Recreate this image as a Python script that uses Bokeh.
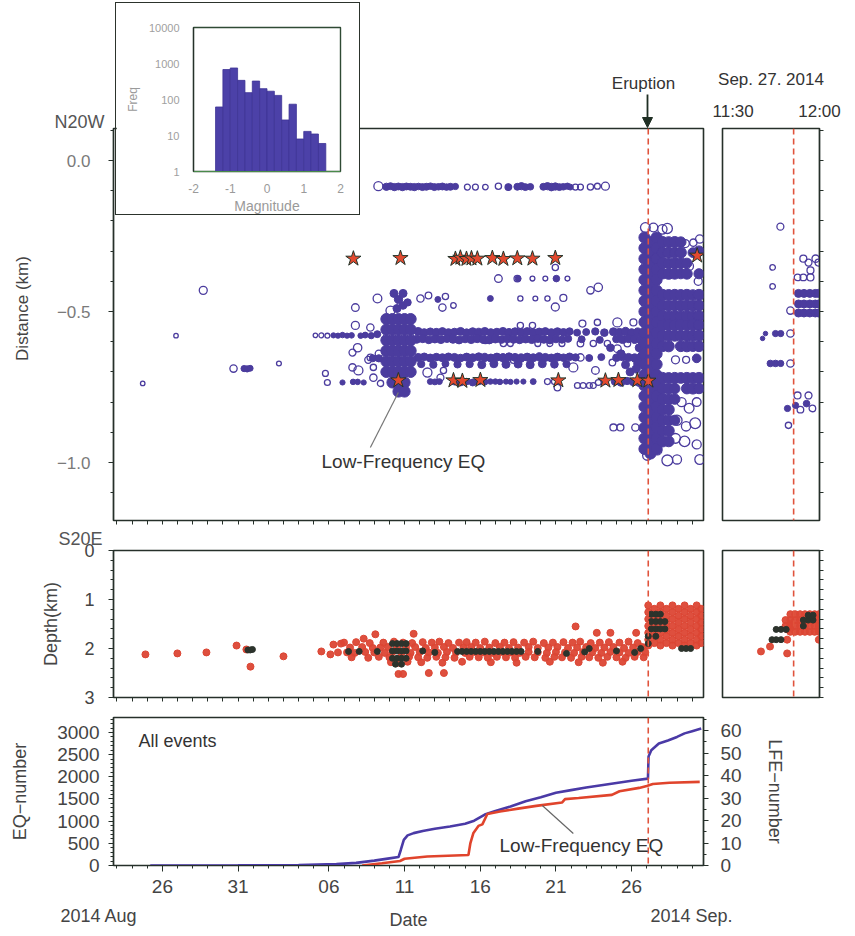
import math
from bokeh.plotting import figure
from bokeh.layouts import column, row
from bokeh.models import (ColumnDataSource, Range1d, LinearAxis, FixedTicker, Label,
                          Arrow, NormalHead, Span, GridBox)
from bokeh.embed import file_html
from bokeh.resources import INLINE

FONT = "Liberation Sans"
PURPLE = "#4b3c9e"
RED = "#dc4634"
DARK = "#2c332c"
FRAME = "#26302a"
ERUPT = "#e0533c"

# ---------------- axes values ----------------
# x = days since 2014-08-01 00:00 (Aug 26 -> 25, Sep 06 -> 36)
date_ticks = [25, 30, 36, 41, 46, 51, 56]
date_tick_labels = ["26", "31", "06", "11", "16", "21", "26"]
date_minor_ticks = [22, 23, 24, 25, 26, 27, 28, 29, 30, 31, 32, 33, 34, 35, 36, 37, 38, 39, 40,
                    41, 42, 43, 44, 45, 46, 47, 48, 49, 50, 51, 52, 53, 54, 55, 56, 57, 58, 59, 60]
eruption_day = 57.1
eruption_minute = 22          # 11:52 inside the 11:30-12:00 window
dist_ticks = [0.0, -0.5, -1.0]
dist_tick_labels = ["0.0", "\u22120.5", "\u22121.0"]
dist_minor_ticks = [0.1, 0.0, -0.1, -0.2, -0.3, -0.4, -0.5, -0.6, -0.7, -0.8, -0.9, -1.0, -1.1]
depth_ticks = [0, 1, 2, 3]
depth_minor_ticks = [0.2, 0.4, 0.6, 0.8, 1.2, 1.4, 1.6, 1.8, 2.2, 2.4, 2.6, 2.8]
depth_all_ticks = [0, 0.2, 0.4, 0.6, 0.8, 1, 1.2, 1.4, 1.6, 1.8, 2, 2.2, 2.4, 2.6, 2.8, 3]
eq_ticks = [0, 500, 1000, 1500, 2000, 2500, 3000]
eq_minor_ticks = [100, 200, 300, 400, 600, 700, 800, 900, 1100, 1200, 1300, 1400, 1600, 1700, 1800,
                  1900, 2100, 2200, 2300, 2400, 2600, 2700, 2800, 2900, 3100, 3200, 3300]
lfe_ticks = [0, 10, 20, 30, 40, 50, 60]
lfe_minor_ticks = [5, 15, 25, 35, 45, 55, 65]

# ---------------- magnitude histogram (inset) ----------------
mag_bin_left = [-1.4, -1.2, -1.0, -0.8, -0.6, -0.4, -0.2, 0.0, 0.2, 0.4, 0.6, 0.8, 1.0, 1.2, 1.4]
mag_bin_freq = [62, 680, 750, 340, 155, 325, 200, 170, 130, 27, 74, 8, 13, 11, 6]

# ---------------- hypocentre distance vs date (day, km, magnitude) ----------------
open_events = [
    (23.7, -0.738, -1.0), (25.9, -0.580, -1.0), (27.7, -0.430, 0.0), (29.7, -0.689, -0.2), (32.7, -0.672, -0.9),
    (39.27, -0.085, 0.3), (45.15, -0.088, -0.6), (45.68, -0.088, -0.6), (46.34, -0.088, -0.7), (47.20, -0.085, -0.5),
    (47.86, -0.088, -0.4), (52.29, -0.088, -0.6), (52.62, -0.088, -0.6), (53.28, -0.088, -0.5), (53.74, -0.085, -0.6),
    (54.27, -0.085, 0.0),
    (37.75, -0.487, -0.1), (39.21, -0.457, 0.2), (40.07, -0.497, 0.3), (42.05, -0.457, -0.2), (42.58, -0.447, -0.4),
    (43.50, -0.487, -0.2), (43.70, -0.450, -0.5), (44.23, -0.480, -0.7), (47.20, -0.391, -0.1), (48.45, -0.391, -0.4),
    (49.45, -0.391, -0.9), (50.30, -0.391, -0.9), (51.76, -0.391, -0.9), (48.65, -0.457, -0.8), (49.64, -0.457, -0.9),
    (50.44, -0.457, -0.8), (50.96, -0.485, 0.0), (51.49, -0.455, -0.3), (53.28, -0.430, -0.2), (53.80, -0.420, 0.1),
    (50.96, -0.354, -0.5),
    (35.11, -0.579, -1.0), (35.50, -0.579, -0.9), (35.90, -0.580, -0.9), (37.75, -0.546, 0.0), (38.74, -0.553, -0.2),
    (37.56, -0.636, -0.3), (37.56, -0.685, -0.2), (37.95, -0.695, 0.3), (38.94, -0.685, -0.5), (38.74, -0.652, -0.4),
    (35.77, -0.705, -0.6), (35.90, -0.735, -0.6), (38.94, -0.719, -0.2), (39.41, -0.738, -0.5), (42.51, -0.702, 0.3),
    (43.37, -0.719, -0.3), (43.57, -0.695, -0.5), (37.90, -0.620, 0.1), (38.60, -0.660, -0.3), (39.30, -0.640, -0.2),
    (48.65, -0.546, -0.5), (49.45, -0.546, -0.5), (52.75, -0.540, -0.3), (53.74, -0.536, -0.5), (55.06, -0.536, 0.3),
    (56.12, -0.536, -0.3),
    (46.34, -0.596, -0.5), (47.53, -0.606, -0.5), (47.99, -0.606, -0.6), (49.80, -0.606, -0.6), (50.60, -0.606, -0.6),
    (51.40, -0.606, -0.6), (52.62, -0.606, -0.4), (53.47, -0.606, -0.5), (54.40, -0.606, -0.5), (55.72, -0.606, -0.4),
    (48.19, -0.662, -0.6), (52.15, -0.685, 0.3), (52.62, -0.652, -0.2), (53.61, -0.695, -0.1), (54.73, -0.669, -0.4),
    (55.06, -0.623, -0.1),
    (50.44, -0.732, -0.6), (50.90, -0.732, -0.6), (51.10, -0.752, -0.4), (52.42, -0.745, -0.6), (52.80, -0.745, -0.6),
    (53.21, -0.745, -0.6), (53.47, -0.745, -0.6), (53.80, -0.735, -0.6), (54.20, -0.732, -0.6),
    (54.80, -0.884, -0.3), (55.26, -0.884, -0.3), (56.25, -0.884, -0.2),
    (56.91, -0.222, 0.5), (57.44, -0.222, 0.2), (58.03, -0.228, 0.4), (58.36, -0.225, 0.6), (59.55, -0.275, 0.0),
    (60.08, -0.272, -0.2), (60.50, -0.260, 0.1), (59.80, -0.350, 0.2), (60.40, -0.400, 0.0), (58.90, -0.660, 0.0),
    (59.60, -0.660, -0.3), (60.40, -0.580, -0.2), (59.30, -0.800, 0.3), (59.80, -0.820, 0.5), (60.30, -0.800, 0.2),
    (59.00, -0.860, 0.6), (59.60, -0.880, 0.4), (60.20, -0.870, 0.8), (58.90, -0.920, 0.5), (59.50, -0.930, 0.7),
    (60.30, -0.940, 0.3), (58.36, -0.993, 0.8), (59.00, -0.990, 0.3), (57.04, -0.977, 0.4), (57.70, -0.960, 0.3),
    (60.50, -0.990, 0.5),
]

swarm_events = [
    (30.4, -0.689, -0.5), (30.6, -0.690, -0.5), (30.8, -0.688, -0.6),
    # northern cluster
    (39.80, -0.087, -0.2), (40.07, -0.085, -0.3), (40.33, -0.088, -0.2), (40.59, -0.086, -0.3), (40.86, -0.088, -0.2),
    (41.12, -0.086, -0.3), (41.39, -0.087, -0.3), (41.65, -0.088, -0.2), (41.92, -0.086, -0.4), (42.18, -0.088, -0.3),
    (42.44, -0.087, -0.3), (42.71, -0.085, -0.4), (42.97, -0.088, -0.3), (43.24, -0.087, -0.4), (43.50, -0.086, -0.3),
    (43.77, -0.088, -0.4), (44.03, -0.087, -0.3), (44.36, -0.086, -0.5), (47.86, -0.088, -0.5), (48.45, -0.087, -0.3),
    (48.72, -0.085, -0.2), (48.98, -0.088, -0.3), (49.31, -0.087, -0.4), (50.17, -0.087, -0.3), (50.44, -0.085, -0.2),
    (50.70, -0.088, -0.1), (50.96, -0.086, -0.2), (51.23, -0.088, -0.3), (51.49, -0.087, -0.4), (51.76, -0.085, -0.5),
    (51.95, -0.088, -0.6),
    (40.3, -0.440, 0.0), (40.6, -0.460, 0.1), (40.9, -0.440, 0.0), (40.5, -0.490, 0.0), (40.9, -0.480, -0.1),
    (41.2, -0.470, -0.2), (46.67, -0.457, -0.6), (51.03, -0.391, -0.4), (48.5, -0.391, -0.6), (43.2, -0.460, -0.6),
    # band near -0.58 km
    (36.3, -0.579, -0.8), (36.6, -0.580, -0.8), (36.9, -0.578, -0.7), (37.2, -0.580, -0.8), (37.5, -0.579, -0.7),
    (38.1, -0.580, -0.7), (38.4, -0.578, -0.6), (38.8, -0.580, -0.5), (39.2, -0.575, -0.3),
    (41.9, -0.566, 0.0), (42.3, -0.570, 0.0), (42.7, -0.567, -0.1), (43.1, -0.569, 0.0), (43.5, -0.566, -0.1),
    (43.9, -0.570, 0.0), (44.3, -0.568, -0.1), (44.7, -0.566, 0.0), (45.1, -0.570, -0.1), (45.5, -0.567, 0.0),
    (45.9, -0.569, 0.1), (46.3, -0.566, 0.0), (46.7, -0.570, 0.0), (47.1, -0.568, -0.1), (47.5, -0.566, 0.0),
    (47.9, -0.570, 0.1), (48.3, -0.567, 0.0), (48.7, -0.569, 0.0), (49.1, -0.566, -0.1), (49.5, -0.570, 0.0),
    (49.9, -0.568, 0.0), (50.3, -0.566, -0.1), (50.7, -0.570, 0.0), (51.1, -0.567, 0.0), (51.5, -0.569, -0.1),
    (51.9, -0.566, -0.2), (52.4, -0.570, -0.3), (53.0, -0.568, -0.3), (53.6, -0.566, -0.2), (54.2, -0.570, -0.1),
    (54.8, -0.567, 0.0), (55.2, -0.569, 0.0), (55.6, -0.566, 0.1), (56.0, -0.570, 0.0), (56.4, -0.568, 0.1),
    (41.8, -0.592, 0.0), (42.2, -0.590, 0.0), (42.6, -0.594, -0.1), (43.0, -0.591, 0.0), (43.4, -0.593, 0.0),
    (43.8, -0.590, -0.1), (44.2, -0.592, 0.0), (44.6, -0.594, 0.0), (45.0, -0.591, -0.1), (45.4, -0.593, 0.0),
    (45.8, -0.590, 0.0), (46.2, -0.592, 0.1), (46.6, -0.594, 0.0), (47.0, -0.591, 0.0), (47.4, -0.593, -0.1),
    (47.8, -0.590, 0.0), (48.2, -0.592, 0.0), (48.6, -0.594, -0.1), (49.0, -0.591, 0.0), (49.4, -0.593, 0.0),
    (49.8, -0.590, -0.1), (50.2, -0.592, 0.0), (50.6, -0.594, 0.0), (51.0, -0.591, -0.1), (51.4, -0.593, -0.2),
    (51.8, -0.590, -0.2), (52.7, -0.592, -0.3), (53.9, -0.594, -0.3), (55.0, -0.591, -0.1), (55.4, -0.593, 0.0),
    (55.8, -0.590, 0.0), (56.2, -0.592, 0.1), (56.6, -0.594, 0.1),
    # band near -0.66 km
    (38.9, -0.655, -0.3), (39.3, -0.655, -0.2),
    (41.9, -0.652, 0.0), (42.3, -0.650, -0.1), (42.7, -0.654, 0.0), (43.1, -0.651, -0.1), (43.5, -0.653, 0.0),
    (43.9, -0.650, -0.1), (44.3, -0.652, 0.0), (44.7, -0.654, -0.1), (45.1, -0.651, 0.0), (45.5, -0.653, 0.0),
    (45.9, -0.650, 0.0), (46.3, -0.652, 0.1), (46.7, -0.654, 0.0), (47.1, -0.651, 0.0), (47.5, -0.653, 0.1),
    (47.9, -0.650, 0.0), (48.3, -0.652, 0.0), (48.7, -0.654, 0.1), (49.1, -0.651, 0.0), (49.5, -0.653, 0.0),
    (49.9, -0.650, 0.1), (50.3, -0.652, 0.0), (50.7, -0.654, 0.0), (51.1, -0.651, 0.0), (51.5, -0.653, -0.1),
    (51.9, -0.650, -0.1), (52.3, -0.652, -0.2), (53.2, -0.654, -0.3), (54.0, -0.651, -0.3), (55.0, -0.653, -0.1),
    (55.4, -0.650, 0.0), (55.8, -0.652, 0.0), (56.2, -0.654, 0.1), (56.6, -0.651, 0.1),
    (42.1, -0.674, -0.2), (42.9, -0.676, -0.2), (43.7, -0.673, -0.3), (44.5, -0.675, -0.2), (45.3, -0.674, -0.2),
    (46.1, -0.676, 0.0), (46.9, -0.673, 0.0), (47.7, -0.675, 0.0), (48.5, -0.674, 0.0), (49.3, -0.676, 0.0),
    (50.1, -0.673, 0.0), (50.9, -0.675, -0.1), (51.7, -0.674, -0.2), (55.6, -0.676, 0.0), (56.4, -0.673, 0.0),
    # Sep 10-11 burst
    (39.8, -0.525, 0.9), (39.8, -0.560, 0.9), (39.8, -0.595, 0.9), (39.8, -0.630, 0.9), (39.8, -0.665, 0.9), (39.8, -0.700, 0.9),
    (40.2, -0.525, 0.9), (40.2, -0.560, 0.9), (40.2, -0.595, 0.9), (40.2, -0.630, 0.9), (40.2, -0.665, 0.9), (40.2, -0.700, 0.9),
    (40.2, -0.735, 0.9),
    (40.6, -0.525, 0.9), (40.6, -0.560, 0.9), (40.6, -0.595, 0.9), (40.6, -0.630, 0.9), (40.6, -0.665, 0.9), (40.6, -0.700, 0.9),
    (40.6, -0.735, 0.9), (40.6, -0.765, 0.9),
    (41.0, -0.525, 0.9), (41.0, -0.560, 0.9), (41.0, -0.595, 0.9), (41.0, -0.630, 0.9), (41.0, -0.665, 0.9), (41.0, -0.700, 0.9),
    (41.0, -0.735, 0.9), (41.0, -0.765, 0.9),
    (41.4, -0.525, 0.9), (41.4, -0.560, 0.9), (41.4, -0.595, 0.9), (41.4, -0.630, 0.9), (41.4, -0.665, 0.9), (41.4, -0.700, 0.9),
    # band near -0.73 km
    (36.9, -0.735, -0.8), (37.6, -0.733, -0.7), (37.9, -0.733, -0.7), (38.3, -0.735, -0.8), (42.7, -0.732, -0.6),
    (43.0, -0.733, -0.6), (43.3, -0.732, -0.6), (44.3, -0.732, -0.3), (44.7, -0.735, -0.3), (45.1, -0.732, -0.4),
    (45.5, -0.735, -0.3), (45.9, -0.732, -0.4), (46.3, -0.733, -0.5), (46.67, -0.732, -0.7), (47.0, -0.732, -0.7),
    (47.3, -0.733, -0.7), (47.7, -0.732, -0.8), (48.0, -0.733, -0.8), (48.4, -0.732, -0.8), (48.85, -0.732, -0.8),
    (49.5, -0.732, -0.6), (54.9, -0.732, -0.2), (55.3, -0.735, -0.1), (55.7, -0.730, -0.2), (56.1, -0.733, -0.1),
    (56.5, -0.735, 0.0), (54.6, -0.620, -0.1), (55.3, -0.640, 0.0), (55.9, -0.700, 0.0), (56.3, -0.690, 0.1),
    (56.5, -0.620, 0.0),
    # after the eruption
    (56.85, -0.255, 0.9), (56.85, -0.290, 0.9), (56.85, -0.325, 0.9), (56.85, -0.360, 0.9), (56.85, -0.395, 0.9),
    (56.85, -0.430, 0.9), (56.85, -0.465, 0.9), (56.85, -0.500, 0.9), (56.85, -0.535, 0.9), (56.85, -0.570, 0.9),
    (56.85, -0.605, 0.9), (56.85, -0.640, 0.9), (56.85, -0.675, 0.9), (56.85, -0.710, 0.9), (56.85, -0.745, 0.9),
    (56.85, -0.780, 0.9), (56.85, -0.815, 0.9), (56.85, -0.850, 0.9), (56.85, -0.885, 0.9), (56.85, -0.920, 0.9),
    (56.85, -0.955, 0.9),
    (57.25, -0.270, 0.9), (57.25, -0.305, 0.9), (57.25, -0.340, 0.9), (57.25, -0.375, 0.9), (57.25, -0.410, 0.9),
    (57.25, -0.445, 0.9), (57.25, -0.480, 0.9), (57.25, -0.515, 0.9), (57.25, -0.550, 0.9), (57.25, -0.585, 0.9),
    (57.25, -0.620, 0.9), (57.25, -0.655, 0.9), (57.25, -0.690, 0.9), (57.25, -0.725, 0.9), (57.25, -0.760, 0.9),
    (57.25, -0.795, 0.9), (57.25, -0.830, 0.9), (57.25, -0.865, 0.9), (57.25, -0.900, 0.9), (57.25, -0.935, 0.9),
    (57.25, -0.970, 0.9),
    (57.65, -0.255, 0.9), (57.65, -0.290, 0.9), (57.65, -0.325, 0.9), (57.65, -0.360, 0.9), (57.65, -0.395, 0.9),
    (57.65, -0.430, 0.9), (57.65, -0.465, 0.9), (57.65, -0.500, 0.9), (57.65, -0.535, 0.9), (57.65, -0.570, 0.9),
    (57.65, -0.605, 0.9), (57.65, -0.640, 0.9), (57.65, -0.675, 0.9), (57.65, -0.710, 0.9), (57.65, -0.745, 0.9),
    (57.65, -0.780, 0.9), (57.65, -0.815, 0.9), (57.65, -0.850, 0.9), (57.65, -0.885, 0.9), (57.65, -0.920, 0.9),
    (57.65, -0.955, 0.9),
    (58.05, -0.270, 0.9), (58.05, -0.305, 0.8), (58.05, -0.340, 0.9), (58.05, -0.375, 0.7),
    (58.45, -0.270, 0.8), (58.45, -0.305, 0.9), (58.45, -0.340, 0.7), (58.45, -0.375, 0.9),
    (58.85, -0.270, 0.9), (58.85, -0.305, 0.7), (58.85, -0.340, 0.9), (58.85, -0.375, 0.8),
    (59.25, -0.270, 0.7), (59.25, -0.305, 0.9), (59.25, -0.340, 0.8), (59.25, -0.375, 0.6),
    (59.65, -0.340, 0.6), (59.65, -0.375, 0.8), (60.05, -0.305, 0.5), (60.45, -0.300, 0.7), (60.45, -0.375, 0.6),
    (58.05, -0.445, 0.9), (58.45, -0.445, 0.8), (58.85, -0.445, 0.9), (59.25, -0.445, 0.8), (59.65, -0.445, 0.9),
    (60.05, -0.445, 0.7), (60.45, -0.445, 0.9),
    (58.05, -0.480, 0.8), (58.45, -0.480, 0.9), (58.85, -0.480, 0.7), (59.25, -0.480, 0.9), (59.65, -0.480, 0.8),
    (60.05, -0.480, 0.9), (60.45, -0.480, 0.8),
    (58.05, -0.515, 0.9), (58.45, -0.515, 0.7), (58.85, -0.515, 0.9), (59.25, -0.515, 0.8), (59.65, -0.515, 0.9),
    (60.05, -0.515, 0.8), (60.45, -0.515, 0.9),
    (58.05, -0.545, 0.8), (58.45, -0.545, 0.9), (58.85, -0.545, 0.8), (59.25, -0.545, 0.9), (59.65, -0.545, 0.7),
    (60.05, -0.545, 0.9), (60.45, -0.545, 0.8),
    (58.05, -0.580, 0.9), (58.45, -0.580, 0.8), (58.85, -0.580, 0.9), (59.25, -0.580, 0.7), (59.65, -0.580, 0.9),
    (60.05, -0.580, 0.8), (60.45, -0.580, 0.9),
    (58.05, -0.615, 0.8), (58.45, -0.615, 0.9), (59.25, -0.615, 0.8), (59.65, -0.615, 0.9),
    (60.05, -0.615, 0.7), (60.45, -0.615, 0.8),
    (58.05, -0.720, 0.9), (58.45, -0.720, 0.8), (58.85, -0.720, 0.9), (59.25, -0.720, 0.8), (59.65, -0.720, 0.9),
    (60.05, -0.720, 0.8), (60.45, -0.720, 0.9),
    (58.05, -0.755, 0.8), (58.45, -0.755, 0.9), (58.85, -0.755, 0.7), (59.65, -0.755, 0.8),
    (60.05, -0.755, 0.9), (60.45, -0.755, 0.7),
    (58.05, -0.790, 0.9), (58.45, -0.790, 0.8), (58.05, -0.825, 0.8), (58.45, -0.825, 0.9),
    (58.05, -0.860, 0.9), (58.45, -0.860, 0.7), (58.05, -0.895, 0.8), (58.45, -0.895, 0.9),
    (58.05, -0.930, 0.9), (58.45, -0.930, 0.8), (58.85, -0.790, 0.7), (58.85, -0.860, 0.6),
    (60.30, -0.655, 0.2),
]

# low-frequency events (stars): day, distance
lfe_events = [
    (37.62, -0.325), (40.73, -0.323), (44.36, -0.326), (44.69, -0.322), (45.09, -0.326), (45.42, -0.324),
    (45.81, -0.325), (46.80, -0.323), (47.53, -0.326), (48.45, -0.324), (49.45, -0.325), (50.96, -0.323),
    (60.33, -0.315),
    (40.59, -0.728), (44.23, -0.728), (44.82, -0.730), (46.01, -0.727), (51.16, -0.728), (54.27, -0.729),
    (55.13, -0.727), (56.38, -0.728), (57.11, -0.729),
]

# ---------------- Sep 27 11:30-12:00 close-up: minute, km, magnitude ----------------
zoom_open_events = [
    (17.9, -0.219, -0.3), (15.5, -0.354, -0.7), (15.5, -0.417, -0.7), (25.0, -0.325, -0.3), (26.6, -0.338, -0.3),
    (28.8, -0.325, -0.2), (29.7, -0.338, -0.3), (27.2, -0.364, -0.3), (23.2, -0.387, -0.4), (25.0, -0.387, -0.4),
    (27.2, -0.387, -0.3), (21.0, -0.497, -0.2), (21.0, -0.573, -0.2), (21.0, -0.672, -0.2), (23.2, -0.778, -0.3),
    (26.6, -0.778, -0.3), (24.1, -0.825, -0.4), (27.8, -0.821, -0.4), (20.4, -0.877, -0.5),
]
zoom_swarm_events = [
    (23.5, -0.440, 0.0), (25.2, -0.440, 0.0), (27.0, -0.440, 0.0), (28.7, -0.440, 0.0), (29.7, -0.440, 0.0),
    (23.5, -0.475, 0.0), (25.2, -0.475, 0.0), (27.0, -0.475, 0.0), (28.7, -0.475, 0.0), (29.7, -0.475, 0.0),
    (23.5, -0.505, 0.0), (25.2, -0.505, 0.0), (27.0, -0.505, 0.0), (28.7, -0.505, 0.0), (29.7, -0.505, 0.0),
    (12.4, -0.589, -1.0), (13.3, -0.573, -1.0), (16.4, -0.573, -0.5), (18.0, -0.573, -0.5), (14.8, -0.672, -0.4),
    (16.4, -0.672, -0.4), (18.0, -0.672, -0.5), (20.1, -0.821, -0.5), (22.6, -0.811, -0.5), (26.0, -0.805, -0.4),
]

# ---------------- depth vs date (day, km) ----------------
depth_red = [
    (23.88, 2.12), (25.99, 2.10), (27.91, 2.08), (29.90, 1.94), (30.55, 2.02), (30.82, 2.37), (33.00, 2.16),
    (35.50, 2.06), (36.10, 2.12), (36.30, 1.92), (36.60, 2.08), (36.80, 1.90),
    (37.0, 1.88), (37.8, 1.87), (38.7, 1.89), (39.6, 1.88), (40.3, 1.86), (40.9, 1.88), (41.5, 1.89), (42.2, 1.87),
    (42.8, 1.88), (43.3, 1.86), (43.9, 1.89), (44.6, 1.88), (45.1, 1.87), (45.7, 1.88), (46.3, 1.86), (47.0, 1.89),
    (47.6, 1.88), (48.2, 1.87), (48.9, 1.88), (49.5, 1.86), (50.2, 1.89), (50.8, 1.88), (51.5, 1.87), (52.1, 1.88),
    (52.6, 1.86), (53.3, 1.89), (53.9, 1.88), (54.5, 1.87), (55.2, 1.88), (55.8, 1.86), (56.4, 1.89),
    (37.4, 1.98), (38.2, 1.97), (38.9, 1.99), (39.4, 1.98), (39.9, 1.97), (40.5, 1.99), (41.1, 1.98), (41.7, 1.97),
    (42.4, 1.99), (43.0, 1.98), (43.6, 1.97), (44.2, 1.99), (44.9, 1.98), (45.4, 1.97), (46.0, 1.99), (46.6, 1.98),
    (47.3, 1.97), (47.9, 1.99), (48.5, 1.98), (49.2, 1.97), (49.8, 1.99), (50.5, 1.98), (51.1, 1.97), (51.8, 1.99),
    (52.4, 1.98), (53.0, 1.97), (53.6, 1.99), (54.2, 1.98), (54.8, 1.97), (55.5, 1.99), (56.1, 1.98), (56.7, 1.97),
    (37.2, 2.08), (37.7, 2.09), (38.4, 2.07), (39.0, 2.08), (39.7, 2.09), (40.2, 2.07), (40.8, 2.08), (41.4, 2.09),
    (42.0, 2.07), (42.6, 2.08), (43.2, 2.09), (43.8, 2.07), (44.4, 2.08), (45.0, 2.09), (45.6, 2.07), (46.2, 2.08),
    (46.8, 2.09), (47.4, 2.07), (48.0, 2.08), (48.6, 2.09), (49.2, 2.07), (49.8, 2.08), (50.4, 2.09), (51.0, 2.07),
    (51.6, 2.08), (52.2, 2.09), (52.8, 2.07), (53.4, 2.08), (54.0, 2.09), (54.6, 2.07), (55.2, 2.08), (55.8, 2.09),
    (56.4, 2.07), (56.9, 2.08),
    (37.5, 2.18), (38.6, 2.19), (39.3, 2.17), (40.0, 2.18), (40.7, 2.19), (41.3, 2.17), (41.9, 2.18), (42.5, 2.19),
    (43.1, 2.17), (43.7, 2.18), (44.3, 2.19), (45.3, 2.17), (45.9, 2.18), (46.5, 2.19), (47.1, 2.17), (47.7, 2.18),
    (48.3, 2.19), (49.0, 2.17), (49.6, 2.18), (50.3, 2.19), (50.9, 2.17), (51.4, 2.18), (52.0, 2.19), (52.7, 2.17),
    (53.2, 2.18), (53.8, 2.19), (54.4, 2.17), (55.0, 2.18), (55.6, 2.19), (56.2, 2.17), (56.8, 2.18),
    (40.1, 2.28), (40.6, 2.29), (41.2, 2.27), (42.1, 2.28), (43.5, 2.29), (44.8, 2.27), (46.7, 2.28), (48.4, 2.29),
    (50.6, 2.27), (52.5, 2.28), (54.1, 2.29), (55.4, 2.27),
    (39.07, 1.71), (41.6, 1.70), (52.3, 1.55), (53.7, 1.68), (54.6, 1.68), (56.3, 1.68), (40.6, 2.52), (40.9, 2.52),
    (42.6, 2.50), (43.6, 2.50), (38.3, 1.80),
    (57.1, 1.12), (57.1, 1.26), (57.1, 1.40), (57.1, 1.54), (57.1, 1.68), (57.1, 1.82), (57.1, 1.94),
    (57.5, 1.19), (57.5, 1.33), (57.5, 1.47), (57.5, 1.61), (57.5, 1.75), (57.5, 1.89),
    (57.9, 1.12), (57.9, 1.26), (57.9, 1.40), (57.9, 1.54), (57.9, 1.68), (57.9, 1.82), (57.9, 1.94),
    (58.3, 1.19), (58.3, 1.33), (58.3, 1.47), (58.3, 1.61), (58.3, 1.75), (58.3, 1.89),
    (58.7, 1.12), (58.7, 1.26), (58.7, 1.40), (58.7, 1.54), (58.7, 1.68), (58.7, 1.82), (58.7, 1.94),
    (59.1, 1.19), (59.1, 1.33), (59.1, 1.47), (59.1, 1.61), (59.1, 1.75), (59.1, 1.89),
    (59.5, 1.12), (59.5, 1.26), (59.5, 1.40), (59.5, 1.54), (59.5, 1.68), (59.5, 1.82), (59.5, 1.94),
    (59.9, 1.19), (59.9, 1.33), (59.9, 1.47), (59.9, 1.61), (59.9, 1.75), (59.9, 1.89),
    (60.3, 1.12), (60.3, 1.26), (60.3, 1.40), (60.3, 1.54), (60.3, 1.68), (60.3, 1.82), (60.3, 1.94),
    (60.6, 1.19), (60.6, 1.33), (60.6, 1.47), (60.6, 1.61), (60.6, 1.75), (60.6, 1.89),
]
depth_dark = [
    (30.65, 2.03), (30.80, 2.03), (30.95, 2.02),
    (44.5, 2.06), (44.8, 2.06), (45.1, 2.06), (45.4, 2.06), (45.7, 2.06), (46.0, 2.06), (46.3, 2.06), (46.6, 2.06),
    (46.9, 2.06), (47.2, 2.06), (47.5, 2.06), (47.8, 2.06), (48.1, 2.06), (48.4, 2.06), (48.7, 2.06),
    (40.2, 1.90), (40.5, 1.90), (40.8, 1.90), (41.1, 1.90), (40.2, 2.05), (40.5, 2.05), (40.8, 2.05), (41.1, 2.05),
    (40.2, 2.20), (40.5, 2.20), (40.8, 2.20), (41.1, 2.20), (40.4, 2.32), (40.8, 2.32),
    (37.3, 2.06), (38.0, 2.06), (39.2, 2.06), (42.2, 2.05), (43.0, 2.08), (49.8, 2.06), (51.7, 2.10), (53.2, 2.00),
    (55.0, 2.05), (56.2, 2.08), (56.6, 2.00), (52.9, 2.07),
    (57.3, 1.30), (57.6, 1.30), (57.9, 1.30), (57.3, 1.45), (57.6, 1.45), (57.9, 1.45), (58.2, 1.45), (57.3, 1.60),
    (57.6, 1.60), (57.9, 1.60), (58.2, 1.60), (57.6, 1.75), (57.1, 1.90), (57.1, 1.75), (59.3, 2.00), (59.6, 2.00),
    (59.9, 2.00),
]
zoom_depth_red = [
    (11.9, 2.06), (14.7, 1.96), (20.0, 1.61), (20.0, 1.82), (20.0, 2.10), (21.0, 1.50), (29.8, 1.82),
    (19.5, 1.42), (19.5, 1.54), (21.0, 1.30), (21.0, 1.42), (21.0, 1.54), (21.0, 1.66),
    (22.5, 1.30), (22.5, 1.42), (22.5, 1.54), (22.5, 1.66), (24.0, 1.30), (24.0, 1.42), (24.0, 1.54), (24.0, 1.66),
    (25.5, 1.30), (25.5, 1.42), (25.5, 1.54), (25.5, 1.66), (27.0, 1.30), (27.0, 1.42), (27.0, 1.54), (27.0, 1.66),
    (28.5, 1.30), (28.5, 1.42), (28.5, 1.54), (28.5, 1.66), (29.8, 1.30), (29.8, 1.42), (29.8, 1.54), (29.8, 1.66),
]
zoom_depth_dark = [
    (15.3, 1.82), (16.6, 1.82), (18.1, 1.82), (16.6, 1.61), (18.1, 1.61), (19.7, 1.61),
    (25.0, 1.42), (26.5, 1.42), (28.0, 1.42), (26.5, 1.32), (28.0, 1.32), (25.0, 1.54),
]

# ---------------- cumulative numbers ----------------
eq_day = [24.2, 30.0, 34.0, 36.5, 37.8, 39.0, 40.0, 40.6, 40.75, 40.95, 41.2, 41.6, 42.2, 43.0, 44.0, 45.0,
          45.6, 46.3, 47.0, 48.0, 49.0, 50.0, 51.0, 52.0, 53.0, 54.0, 55.0, 56.0, 57.08, 57.12, 57.3, 57.8,
          58.4, 59.0, 59.5, 60.0, 60.6]
eq_count = [0, 5, 12, 30, 60, 110, 160, 190, 350, 580, 680, 730, 780, 830, 880, 940, 1010, 1150, 1230, 1330,
            1450, 1540, 1640, 1700, 1760, 1810, 1860, 1910, 1960, 2460, 2600, 2750, 2820, 2900, 2980, 3030, 3090]
lfe_day = [38.2, 39.5, 40.7, 41.0, 42.5, 45.22, 45.35, 45.55, 45.88, 46.14, 46.47, 47.3, 48.5, 49.7, 51.4,
           51.6, 52.5, 54.7, 55.2, 56.5, 57.0, 57.4, 58.5, 60.5]
lfe_count = [0, 1, 2, 3, 4, 4.7, 10, 14.5, 17.6, 18.3, 22.9, 24, 25.3, 26.5, 28, 29.5, 30, 31.4, 33, 34.5,
             35.3, 36.2, 36.8, 37.2]


# ---------------- helpers ----------------
def mag_size(m):
    return 8.0 + 3.5 * m


def events_source(events):
    return ColumnDataSource(dict(x=[e[0] for e in events], y=[e[1] for e in events],
                                 size=[mag_size(e[2]) for e in events]))


def pair_source(pairs):
    return ColumnDataSource(dict(x=[e[0] for e in pairs], y=[e[1] for e in pairs]))


def make_fig(w, h, l, r, t, b, xr, yr, **kw):
    p = figure(width=w, height=h, x_range=xr, y_range=yr, output_backend="svg",
               toolbar_location=None, min_border_left=l, min_border_right=r,
               min_border_top=t, min_border_bottom=b, **kw)
    p.xgrid.visible = False
    p.ygrid.visible = False
    p.outline_line_color = FRAME
    p.outline_line_width = 1.6
    p.background_fill_color = "white"
    p.border_fill_color = "white"
    return p


def style_axis(ax, ticks, minor, size="16px", color="#666666", standoff=0, tick_out=5,
               minor_out=3, overrides=None):
    ax.ticker = FixedTicker(ticks=ticks, minor_ticks=minor)
    ax.major_label_text_font = FONT
    ax.major_label_text_font_size = size
    ax.major_label_text_color = color
    ax.major_label_standoff = standoff
    ax.major_tick_out = tick_out
    ax.major_tick_in = 0
    ax.minor_tick_out = minor_out
    ax.minor_tick_in = 0
    ax.axis_line_color = FRAME
    ax.axis_line_width = 1.2
    ax.major_tick_line_color = FRAME
    ax.minor_tick_line_color = FRAME
    if overrides:
        ax.major_label_overrides = overrides


def tick_only_axis(ax, ticks, tick_out=4):
    # unlabelled axis: every tick is drawn as a minor tick, so no label is produced
    ax.ticker = FixedTicker(ticks=[], minor_ticks=ticks)
    ax.minor_tick_out = tick_out
    ax.minor_tick_in = 0
    ax.major_tick_out = 0
    ax.major_label_standoff = 0
    ax.axis_line_color = FRAME
    ax.axis_line_width = 1.2
    ax.minor_tick_line_color = FRAME


def set_axis_label(ax, text, size, color, standoff):
    ax.axis_label = text
    ax.axis_label_text_font = FONT
    ax.axis_label_text_font_size = size
    ax.axis_label_text_font_style = "normal"
    ax.axis_label_text_color = color
    ax.axis_label_standoff = standoff


def add_label(p, x, y, text, size, color="#333333", align="center", baseline="middle", angle=0.0):
    p.add_layout(Label(x=x, y=y, text=text, text_font=FONT, text_font_size=size,
                       text_color=color, text_align=align, text_baseline=baseline, angle=angle))


def eruption_line(p, loc):
    p.add_layout(Span(location=loc, dimension="height", line_color=ERUPT,
                      line_dash="6 4", line_width=1.6))


X_RANGE = (21.77, 60.75)
date_overrides = {t: s for t, s in zip(date_ticks, date_tick_labels)}
dist_overrides = {t: s for t, s in zip(dist_ticks, dist_tick_labels)}

# ---------------- top panel: distance ----------------
pT = make_fig(712, 528, 113, 9, 128, 8, Range1d(*X_RANGE), Range1d(-1.192, 0.106))
tick_only_axis(pT.below[0], date_minor_ticks)
style_axis(pT.left[0], dist_ticks, dist_minor_ticks, size="17px", color="#7a7a7a",
           standoff=18, overrides=dist_overrides)
pT.scatter("x", "y", size="size", source=events_source(open_events), marker="circle",
           fill_color=None, line_color=PURPLE, line_width=1.3)
pT.scatter("x", "y", size="size", source=events_source(swarm_events), marker="circle",
           fill_color=PURPLE, line_color=PURPLE, line_width=1.0)
pT.scatter([e[0] for e in lfe_events], [e[1] for e in lfe_events], marker="star", size=16,
           fill_color="#e2492f", line_color="#24352a", line_width=1.0)
eruption_line(pT, eruption_day)
pT.add_layout(Arrow(end=None, x_start=40.59, y_start=-0.768, x_end=38.74, y_end=-0.95,
                    line_color="#777777", line_width=1.2))
add_label(pT, 40.92, -0.997, "Low-Frequency EQ", "19px", color="#333333")

# ---------------- top right: Sep 27 close-up ----------------
pTR = make_fig(143, 528, 10, 36, 128, 8, Range1d(0, 30), Range1d(-1.192, 0.106),
               x_axis_location="above", y_axis_location="right")
ax = pTR.above[0]
style_axis(ax, [0, 30], [], size="17px", color="#333333", standoff=8, tick_out=0,
           overrides={0: "11:30", 30: "12:00"})
ax.major_tick_line_color = None
set_axis_label(ax, "Sep. 27. 2014", "17px", "#333333", 10)
tick_only_axis(pTR.right[0], dist_minor_ticks)
pTR.scatter("x", "y", size="size", source=events_source(zoom_open_events), marker="circle",
            fill_color=None, line_color=PURPLE, line_width=1.3)
pTR.scatter("x", "y", size="size", source=events_source(zoom_swarm_events), marker="circle",
            fill_color=PURPLE, line_color=PURPLE, line_width=1.0)
eruption_line(pTR, eruption_minute)

# ---------------- middle: depth ----------------
pM = make_fig(712, 179, 113, 9, 22, 10, Range1d(*X_RANGE), Range1d(3, 0))
tick_only_axis(pM.below[0], date_minor_ticks)
style_axis(pM.left[0], depth_ticks, depth_minor_ticks, size="18px", color="#444444", standoff=14)
set_axis_label(pM.left[0], "Depth(km)", "18px", "#444444", 20)
pM.scatter("x", "y", source=pair_source(depth_red), marker="circle", size=7,
           fill_color=RED, line_color=RED, fill_alpha=0.95)
pM.scatter("x", "y", source=pair_source(depth_dark), marker="circle", size=6,
           fill_color=DARK, line_color=DARK)
eruption_line(pM, eruption_day)

pMR = make_fig(143, 179, 10, 36, 22, 10, Range1d(0, 30), Range1d(3, 0),
               x_axis_location=None, y_axis_location="right")
tick_only_axis(pMR.right[0], depth_all_ticks)
pMR.scatter("x", "y", source=pair_source(zoom_depth_red), marker="circle", size=7,
            fill_color=RED, line_color=RED, fill_alpha=0.95)
pMR.scatter("x", "y", source=pair_source(zoom_depth_dark), marker="circle", size=6,
            fill_color=DARK, line_color=DARK)
eruption_line(pMR, eruption_minute)

# ---------------- bottom: cumulative numbers ----------------
pB = make_fig(855, 229, 113, 152, 10, 71, Range1d(*X_RANGE), Range1d(0, 3338))
style_axis(pB.below[0], date_ticks, date_minor_ticks, size="19px", color="#444444",
           standoff=8, tick_out=6, overrides=date_overrides)
set_axis_label(pB.below[0], "Date", "18px", "#444444", 14)
style_axis(pB.left[0], eq_ticks, eq_minor_ticks, size="19px", color="#444444", standoff=9)
set_axis_label(pB.left[0], "EQ\u2212number", "18px", "#444444", 24)
pB.extra_y_ranges = {"lfe": Range1d(0, 65.8)}
lfe_axis = LinearAxis(y_range_name="lfe")
style_axis(lfe_axis, lfe_ticks, lfe_minor_ticks, size="19px", color="#444444", standoff=12)
set_axis_label(lfe_axis, "LFE\u2212number", "18px", "#444444", 20)
pB.add_layout(lfe_axis, "right")
pB.line(eq_day, eq_count, line_color="#4a3aa6", line_width=2.6)
pB.line(lfe_day, lfe_count, y_range_name="lfe", line_color="#e0442c", line_width=2.6)
eruption_line(pB, eruption_day)
add_label(pB, 23.42, 2797, "All events", "18px", color="#333333", align="left")
pB.add_layout(Arrow(end=None, x_start=52.15, y_start=722, x_end=50.1, y_end=1353,
                    line_color="#666666", line_width=1.2))
add_label(pB, 52.68, 451, "Low-Frequency EQ", "19px", color="#333333")

# ---------------- inset histogram ----------------
pI = figure(width=245, height=213, x_range=Range1d(-2, 2), y_range=Range1d(1, 10000),
            y_axis_type="log", output_backend="svg", toolbar_location=None,
            min_border_left=77, min_border_right=21, min_border_top=24, min_border_bottom=44)
pI.xgrid.visible = False
pI.ygrid.visible = False
pI.outline_line_color = "#2f4a34"
pI.outline_line_width = 1.4
pI.border_fill_color = "white"
pI.background_fill_color = "white"
pI.quad(left=mag_bin_left, right=[b + 0.2 for b in mag_bin_left], bottom=1, top=mag_bin_freq,
        fill_color="#4c41a8", line_color="#3e3496", line_width=0.8)
style_axis(pI.below[0], [-2, -1, 0, 1, 2], [], size="12px", color="#9a9a9a", standoff=12, tick_out=0,
           minor_out=0, overrides={-2: "-2", -1: "-1", 0: "0", 1: "1", 2: "2"})
pI.below[0].axis_line_color = "#4a8a4a"
set_axis_label(pI.below[0], "Magnitude", "14px", "#9a9a9a", 2)
style_axis(pI.left[0], [1, 10, 100, 1000, 10000], [], size="11px", color="#a0a0a0", standoff=14,
           tick_out=0, minor_out=0,
           overrides={1: "1", 10: "10", 100: "100", 1000: "1000", 10000: "10000"})
set_axis_label(pI.left[0], "Freq", "12px", "#9a9a9a", 6)
pI.styles = {"border": "1.5px solid #2c332c", "box-sizing": "border-box"}

# ---------------- transparent overlay for texts outside the plot frames ----------------
# page pixel coordinates: x from the left, y from the bottom of the 855x936 page
ov = figure(width=855, height=936, x_range=Range1d(0, 855), y_range=Range1d(0, 936),
            output_backend="svg", toolbar_location=None, x_axis_location=None,
            y_axis_location=None, min_border=0)
ov.xgrid.visible = False
ov.ygrid.visible = False
ov.outline_line_color = None
ov.background_fill_color = None
ov.border_fill_color = None
add_label(ov, 79, 815, "N20W", "18px", color="#555555")
add_label(ov, 22, 628, "Distance (km)", "17px", color="#444444", angle=math.pi / 2)
add_label(ov, 643, 853, "Eruption", "17px", color="#333333")
ov.add_layout(Arrow(end=NormalHead(size=10, fill_color="#1f2f24", line_color="#1f2f24"),
                    x_start=647, y_start=842, x_end=647, y_end=809,
                    line_color="#1f2f24", line_width=1.8))
add_label(ov, 80, 398, "S20E", "18px", color="#555555")
add_label(ov, 60, 21, "2014 Aug", "18px", color="#444444", align="left")
add_label(ov, 650, 21, "2014 Sep.", "18px", color="#444444", align="left")

main = column(row(pT, pTR), row(pM, pMR), pB)
page = GridBox(children=[(main, 0, 0, 3, 3), (pI, 1, 1), (ov, 0, 0, 3, 3)],
               rows=["2px", "213px", "auto"], cols=["115px", "245px", "auto"])

open("out.html", "w").write(file_html(page, INLINE))
